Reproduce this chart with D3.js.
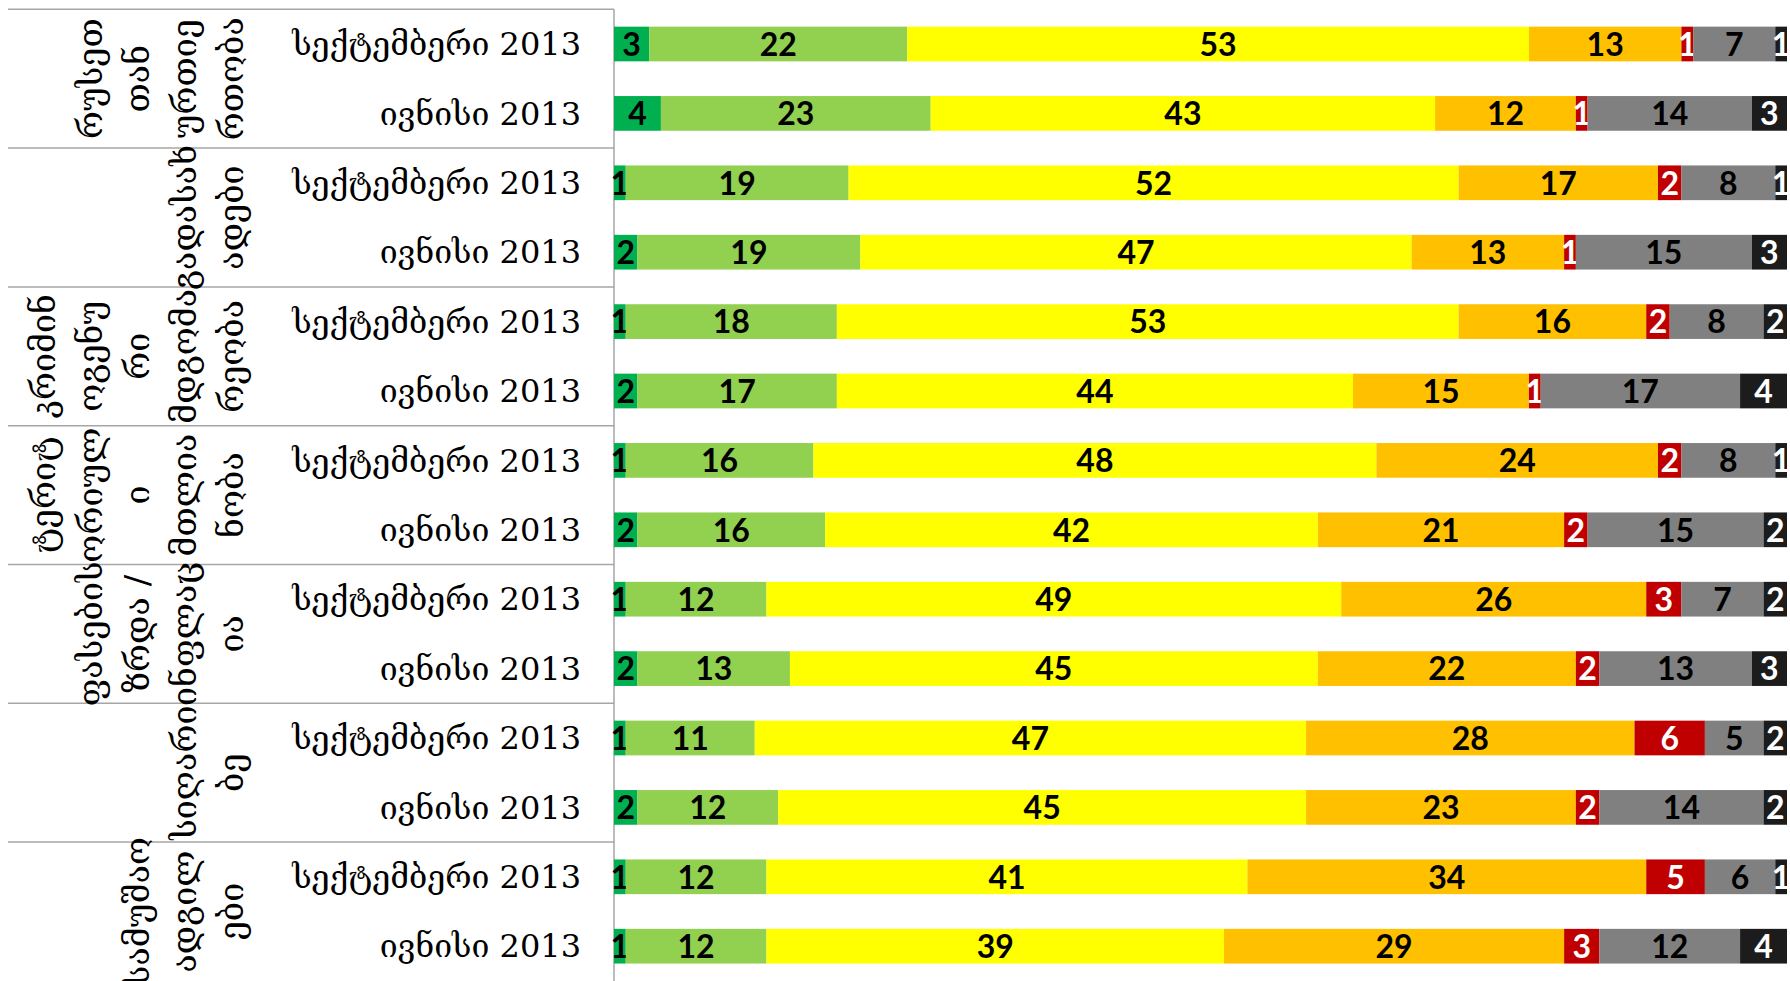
<!DOCTYPE html>
<html>
<head>
<meta charset="utf-8">
<script src="https://cdnjs.cloudflare.com/ajax/libs/d3/7.8.5/d3.min.js"></script>
<style>
  html, body { margin: 0; padding: 0; background: #fff; }
  svg { display: block; }
</style>
</head>
<body>
<div id="chart"></div>
<script>
// wrapped lines of each category name, as they are broken in the table
var categoryLines = [
  ["რუსეთ", "თან", "ურთიე", "რთობა"],
  ["გადასახ", "ადები"],
  ["კრიმინ", "ოგენუ", "რი", "მდგომა", "რეობა"],
  ["ტერიტ", "ორიულ", "ი", "მთლია", "ნობა"],
  ["ფასების", "ზრდა /", "ინფლაც", "ია"],
  ["სიღარი", "ბე"],
  ["სამუშაო", "ადგილ", "ები"]
];
var waves = ["სექტემბერი 2013", "ივნისი 2013"];
var answers = ["a1", "a2", "a3", "a4", "a5", "a6", "a7"];

// one row per category, values in answer order
var sep2013 = [
  [3, 22, 53, 13, 1, 7, 1],
  [1, 19, 52, 17, 2, 8, 1],
  [1, 18, 53, 16, 2, 8, 2],
  [1, 16, 48, 24, 2, 8, 1],
  [1, 12, 49, 26, 3, 7, 2],
  [1, 11, 47, 28, 6, 5, 2],
  [1, 12, 41, 34, 5, 6, 1]
];
var jun2013 = [
  [4, 23, 43, 12, 1, 14, 3],
  [2, 19, 47, 13, 1, 15, 3],
  [2, 17, 44, 15, 1, 17, 4],
  [2, 16, 42, 21, 2, 15, 2],
  [2, 13, 45, 22, 2, 13, 3],
  [2, 12, 45, 23, 2, 14, 2],
  [1, 12, 39, 29, 3, 12, 4]
];

var colors = ["#00b050", "#92d050", "#ffff00", "#ffc000", "#c00000", "#808080", "#1c1c1c"];
var labelColors = ["#000", "#000", "#000", "#000", "#fff", "#000", "#fff"];

var width = 1790, height = 981;
var top0 = 9.3, bottom0 = 980.9;
var serif = "'DejaVu Serif', serif";

var rows = [];
categoryLines.forEach(function(lines, c) {
  rows.push({id: c + "-0", cat: c, wave: waves[0], values: sep2013[c]});
  rows.push({id: c + "-1", cat: c, wave: waves[1], values: jun2013[c]});
});

var svg = d3.select("#chart").append("svg")
  .attr("width", width)
  .attr("height", height);

svg.append("rect").attr("width", width).attr("height", height).attr("fill", "#fff");

var x = d3.scaleLinear().domain([0, 100]).range([614, 1787]);
var y = d3.scaleBand().domain(rows.map(function(r) { return r.id; }))
  .range([top0, bottom0]).paddingInner(0.5).paddingOuter(0.25);
var yCat = d3.scaleBand().domain(d3.range(categoryLines.length)).range([top0, bottom0]);

// table lines on the left
var grid = svg.append("g").attr("stroke", "#a6a6a6").attr("stroke-width", 1.5);
grid.selectAll("line.h")
  .data(yCat.domain())
  .enter().append("line")
  .attr("class", "h")
  .attr("x1", 8).attr("x2", x(0))
  .attr("y1", function(d) { return yCat(d); })
  .attr("y2", function(d) { return yCat(d); });
grid.append("line")
  .attr("x1", x(0)).attr("x2", x(0))
  .attr("y1", top0).attr("y2", height);

// category names, rotated, lines pushed to the right
var lineStep = 47, lastLineX = 233;
var catG = svg.append("g")
  .attr("font-family", serif)
  .attr("font-size", 34)
  .attr("fill", "#000");
categoryLines.forEach(function(lines, c) {
  var cy = yCat(c) + yCat.bandwidth() / 2;
  lines.forEach(function(t, i) {
    var lx = lastLineX - lineStep * (lines.length - 1 - i);
    catG.append("text")
      .attr("transform", "translate(" + lx + "," + cy + ") rotate(-90)")
      .attr("text-anchor", "middle")
      .attr("dy", "0.3em")
      .text(t);
  });
});

// wave labels
svg.append("g")
  .attr("font-family", serif)
  .attr("font-size", 32)
  .selectAll("text")
  .data(rows)
  .enter().append("text")
  .attr("x", 581)
  .attr("y", function(r) { return y(r.id) + y.bandwidth() / 2; })
  .attr("dy", "0.35em")
  .attr("text-anchor", "end")
  .text(function(r) { return r.wave; });

// stacked bars
var stack = d3.stack().keys(d3.range(answers.length))
  .value(function(r, k) { return r.values[k]; });
var series = stack(rows);

var layers = svg.selectAll("g.layer")
  .data(series)
  .enter().append("g")
  .attr("class", "layer")
  .attr("fill", function(s) { return colors[s.key]; });

layers.selectAll("rect")
  .data(function(s) { return s; })
  .enter().append("rect")
  .attr("x", function(d) { return x(d[0]); })
  .attr("width", function(d) { return x(d[1]) - x(d[0]); })
  .attr("y", function(d) { return y(d.data.id); })
  .attr("height", y.bandwidth());

layers.selectAll("text")
  .data(function(s) { return s.map(function(d) { d.key = s.key; return d; }); })
  .enter().append("text")
  .attr("x", function(d) { return (x(d[0]) + x(d[1])) / 2; })
  .attr("y", function(d) { return y(d.data.id) + y.bandwidth() / 2; })
  .attr("dy", "0.37em")
  .attr("text-anchor", "middle")
  .attr("font-family", "Lato, 'Liberation Sans', sans-serif")
  .attr("font-weight", "bold")
  .attr("font-size", 32)
  .attr("fill", function(d) { return labelColors[d.key]; })
  .text(function(d) { return d[1] - d[0]; });
</script>
</body>
</html>
